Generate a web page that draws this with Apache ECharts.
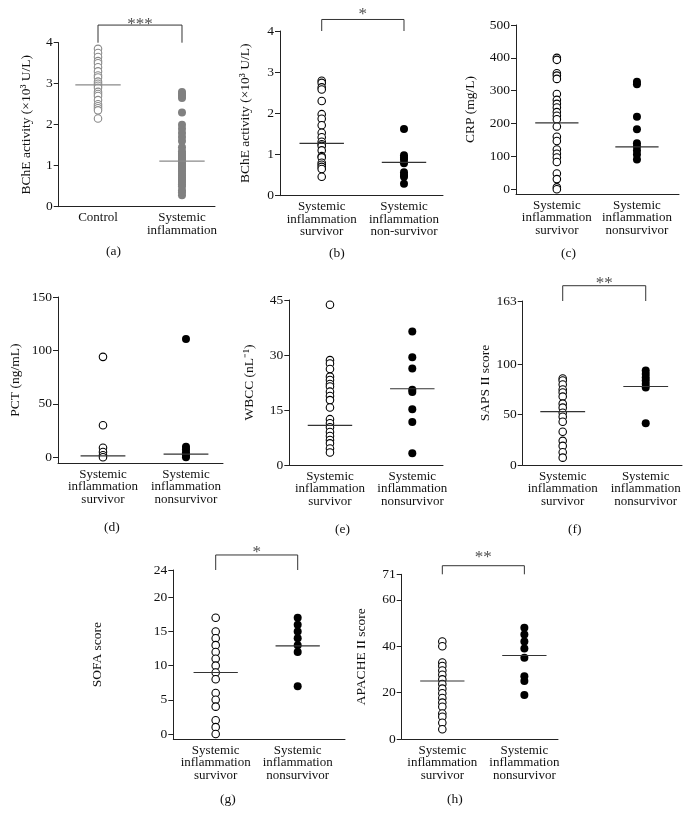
<!DOCTYPE html>
<html><head><meta charset="utf-8">
<script src="https://cdn.jsdelivr.net/npm/echarts@6/dist/echarts.min.js"></script>
<style>html,body{margin:0;padding:0;background:#fff}#c{width:695px;height:815px}</style>
</head><body><div id="c"></div>
<script>
// ---- data ----
const catsA = ['Control', 'Systemic\ninflammation'];
const catsB = ['Systemic\ninflammation\nsurvivor', 'Systemic\ninflammation\nnon-survivor'];
const catsOther = ['Systemic\ninflammation\nsurvivor', 'Systemic\ninflammation\nnonsurvivor'];

const aControl = [3.85,3.75,3.65,3.55,3.5,3.4,3.3,3.2,3.15,3.05,3.0,2.95,2.9,2.8,2.75,2.7,2.6,2.5,2.45,2.4,2.35,2.15];
const aSystemic = [2.8,2.75,2.7,2.65,2.3,2.0,1.9,1.8,1.7,1.6,1.45,1.35,1.3,1.25,1.2,1.15,1.1,1.05,1.0,0.95,0.9,0.85,0.8,0.75,0.7,0.65,0.6,0.55,0.5,0.4,0.35,0.28];
const aMedians = [2.97, 1.11];

const bSurv = [2.79,2.74,2.63,2.58,2.3,1.98,1.87,1.71,1.53,1.42,1.31,1.25,1.21,1.1,0.96,0.93,0.8,0.75,0.7,0.65,0.46];
const bNonSurv = [1.62,0.98,0.93,0.88,0.79,0.57,0.5,0.46,0.29];
const bMedians = [1.27, 0.81];

const cSurv = [400,394,353,346,336,290,272,260,249,235,224,213,191,160,147,121,108,97,83,48,31,6,0];
const cNonSurv = [327,320,221,183,140,130,118,106,91];
const cMedians = [202, 129];

const dSurv = [94,30,9,5,2,0];
const dNonSurv = [110.6,10,7.5,4.7,1.6,0];
const dMedians = [1.3, 3];

const eSurv = [43.7,28.6,27.7,26.2,24.1,23.2,22.1,21.4,20,18.8,17.7,15.7,12.5,11.4,10.3,9,7.9,6.8,5.9,4.5,3.4];
const eNonSurv = [36.4,29.4,26.3,20.5,19.9,15.2,11.7,3.2];
const eMedians = [10.8, 20.8];

const fSurv = [86,84,80,75,72,68,61,57,52,48,43,33,24,19,12.6,7.3];
const fNonSurv = [93.8,90.5,87,84,80.5,77,41.4];
const fMedians = [53, 78];

const gSurv = [17,15,14,13,12,11,10,9,8,6,5,4,2,1,0];
const gNonSurv = [17,16,15,14,13,12,7];
const gMedians = [9, 12.9];

const hSurv = [42,40,33,31.5,29.5,27.7,25.7,23.7,21.7,19.7,17.7,15.7,13.9,11,9.6,7,4.2];
const hNonSurv = [48,45,42,39,35,27,25,19];
const hMedians = [25, 36];

const ticksA = [0,1,2,3,4];
const ticksB = [0,1,2,3,4];
const ticksC = [0,100,200,300,400,500];
const ticksD = [0,50,100,150];
const ticksE = [0,15,30,45];
const ticksF = [0,50,100,163];
const ticksG = [0,5,10,15,20,24];
const ticksH = [0,20,40,60,71];

const yNames = ['BChE activity (×10³ U/L)','BChE activity (×10³ U/L)','CRP (mg/L)','PCT (ng/mL)','WBCC (nL⁻¹)','SAPS II score','SOFA score','APACHE II score'];
const panelLetters = ['(a)','(b)','(c)','(d)','(e)','(f)','(g)','(h)'];
const stars = ['***','*',null,null,null,'**','*','**'];

// ---- layout / styles ----
const FONT = 'Liberation Serif';
const panels = [
  {cats:catsA, s0:aControl, s1:aSystemic, med:aMedians, ticks:ticksA, grid:[58.7,42.7,156.3,164], x:[-0.468,1.393], y:[0,4], gap:25, br:4.43, st:4.5, gray:true},
  {cats:catsB, s0:bSurv, s1:bNonSurv, med:bMedians, ticks:ticksB, grid:[280,31,163,164.7], x:[-0.507,1.474], y:[0,4], gap:28, br:4.28, st:4.46},
  {cats:catsOther, s0:cSurv, s1:cNonSurv, med:cMedians, ticks:ticksC, grid:[516,25,163,169], x:[-0.51,1.525], y:[-14.3,500], gap:39},
  {cats:catsOther, s0:dSurv, s1:dNonSurv, med:dMedians, ticks:ticksD, grid:[58,297,165,166.3], x:[-0.542,1.446], y:[-5.6,150], gap:36},
  {cats:catsOther, s0:eSurv, s1:eNonSurv, med:eMedians, ticks:ticksE, grid:[289.3,300,153.7,165], x:[-0.494,1.373], y:[0,45], gap:32.5},
  {cats:catsOther, s0:fSurv, s1:fNonSurv, med:fMedians, ticks:ticksF, grid:[522.7,301,159.3,164], x:[-0.482,1.437], y:[0,163], gap:29, br:178.2, st:182},
  {cats:catsOther, s0:gSurv, s1:gNonSurv, med:gMedians, ticks:ticksG, grid:[173.3,570,171.7,169.3], x:[-0.517,1.577], y:[-0.78,24], gap:68.5, br:26.2, st:26.9},
  {cats:catsOther, s0:hSurv, s1:hNonSurv, med:hMedians, ticks:ticksH, grid:[401.7,574.3,156.3,164.7], x:[-0.495,1.41], y:[0,71], gap:33, br:74.7, st:79}
];
const letterPos = [[116,252],[339,254],[571,254],[114,528],[345,530],[578,530],[230,800],[457,800]];

const grids=[], xAxes=[], yAxes=[], series=[], graphics=[];
panels.forEach((p,i)=>{
  grids.push({left:p.grid[0], top:p.grid[1], width:p.grid[2], height:p.grid[3]});
  const axisColor = '#222';
  xAxes.push({type:'value', gridIndex:i, min:p.x[0], max:p.x[1],
    splitLine:{show:false}, axisTick:{show:false},
    axisLine:{onZero:false, lineStyle:{color:axisColor, width:1}},
    axisLabel:{customValues:[0,1], formatter:(v)=>p.cats[Math.round(v)], color:'#111',
      fontFamily:FONT, fontSize:13, lineHeight:12.5, margin:5, verticalAlign:'top'}});
  yAxes.push({type:'value', gridIndex:i, min:p.y[0], max:p.y[1],
    name:yNames[i], nameLocation:'middle', nameGap:p.gap,
    nameTextStyle:{fontFamily:FONT, fontSize:13.5, color:'#111'},
    splitLine:{show:false},
    axisLine:{show:true, onZero:false, lineStyle:{color:axisColor, width:1}},
    axisTick:{show:true, customValues:p.ticks, length:5, lineStyle:{color:axisColor}},
    axisLabel:{customValues:p.ticks, color:'#111', fontFamily:FONT, fontSize:13.5, margin:6}});
  const strokeCol = p.gray ? '#8a8a8a' : '#000';
  const fillCol = p.gray ? '#808080' : '#000';
  const medCol = p.gray ? '#8a8a8a' : '#333';
  series.push({type:'scatter', xAxisIndex:i, yAxisIndex:i, symbol:'circle', symbolSize:7.5,
    data:p.s0.map(v=>[0,v]), itemStyle:{color:'#fff', borderColor:strokeCol, borderWidth:1.1, opacity:1}});
  series.push({type:'scatter', xAxisIndex:i, yAxisIndex:i, symbol:'circle', symbolSize:8,
    data:p.s1.map(v=>[1,v]), itemStyle:{color:fillCol, opacity:1}});
  p.med.forEach((m,k)=>{
    series.push({type:'line', xAxisIndex:i, yAxisIndex:i, symbol:'none', silent:true, z:5,
      data:[[k-0.27,m],[k+0.27,m]], lineStyle:{color:medCol, width:1.2}});
  });
  if (stars[i]) {
    const top = p.y[1];
    series.push({type:'line', xAxisIndex:i, yAxisIndex:i, symbol:'none', clip:false, silent:true,
      data:[[0,top],[0,p.br],[1,p.br],[1,top]], lineStyle:{color:'#333', width:1}});
    series.push({type:'scatter', xAxisIndex:i, yAxisIndex:i, symbolSize:0, clip:false, silent:true,
      data:[[0.5,p.st]],
      label:{show:true, position:'inside', offset:[0,2], formatter:stars[i], color:'#222', fontFamily:FONT, fontSize:17}});
  }
  graphics.push({type:'text', left:letterPos[i][0]-10, top:letterPos[i][1]-8,
    style:{text:panelLetters[i], font:'13.5px "Liberation Serif"', fill:'#111', width:20, align:'center'}});
});

const chart = echarts.init(document.getElementById('c'), null, {renderer:'canvas'});
chart.setOption({animation:false, backgroundColor:'#fff', grid:grids, xAxis:xAxes, yAxis:yAxes, series:series, graphic:graphics});
</script></body></html>
